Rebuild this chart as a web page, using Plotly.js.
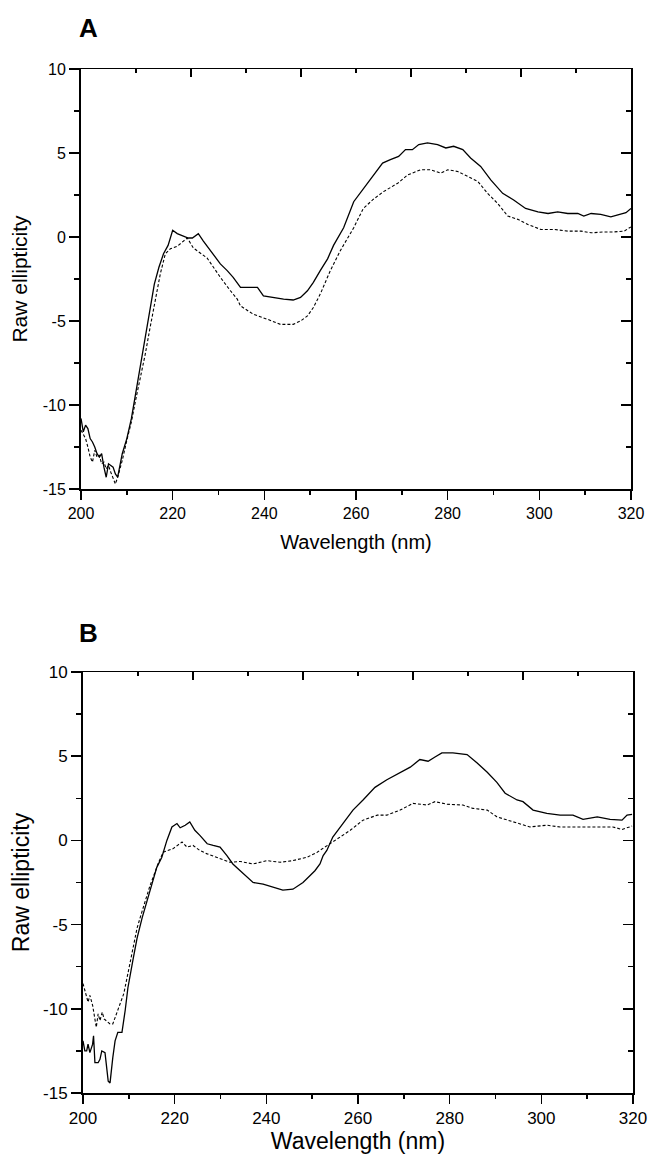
<!DOCTYPE html>
<html>
<head>
<meta charset="utf-8">
<script src="https://cdn.plot.ly/plotly-3.0.1.min.js"></script>
<style>html,body{margin:0;padding:0;background:#fff;}#chart{width:653px;height:1162px;}</style>
</head>
<body>
<div id="chart"></div>
<script>
// Panel A, solid trace
const wlA_solid = [200.0,200.5,201.0,201.5,202.0,202.5,203.0,203.5,204.0,204.5,205.0,205.5,206.0,206.5,207.0,207.5,208.0,209.0,210.0,211.0,212.0,213.0,214.0,215.0,216.0,217.0,218.0,219.0,220.0,221.0,222.3,223.4,224.3,225.6,226.7,227.8,228.9,230.4,231.9,233.2,234.8,236.3,238.5,239.8,242.0,244.2,246.3,247.9,249.4,250.7,252.2,253.8,255.1,257.3,259.5,261.6,263.8,265.8,267.5,269.3,270.8,272.3,273.7,275.6,277.8,279.6,281.3,283.3,285.0,287.2,289.4,292.0,294.4,297.0,299.7,301.9,304.0,306.2,308.4,309.7,311.3,313.4,315.6,317.4,318.9,320.0];
const elA_solid = [-10.8,-11.6,-11.2,-11.4,-12.0,-12.2,-12.5,-12.9,-13.1,-12.9,-13.7,-14.3,-13.5,-13.6,-13.7,-14.1,-14.3,-12.9,-12.0,-10.8,-9.2,-7.4,-6.0,-4.4,-2.8,-1.8,-1.0,-0.5,0.4,0.2,0.05,-0.06,-0.06,0.2,-0.24,-0.65,-1.0,-1.6,-2.0,-2.4,-3.0,-3.0,-3.0,-3.5,-3.6,-3.7,-3.75,-3.6,-3.2,-2.7,-2.0,-1.3,-0.5,0.55,2.1,2.85,3.7,4.4,4.6,4.8,5.2,5.2,5.5,5.6,5.5,5.3,5.4,5.2,4.7,4.2,3.4,2.6,2.2,1.7,1.5,1.4,1.5,1.4,1.4,1.25,1.4,1.35,1.2,1.35,1.45,1.7];
// Panel A, dashed trace
const wlA_dash = [200.0,200.5,201.0,201.5,202.0,202.5,203.0,203.5,204.0,204.5,205.0,205.5,206.0,206.5,207.0,207.5,208.0,209.0,210.0,211.0,212.0,213.0,214.0,215.0,216.0,217.3,218.4,219.5,221.0,223.2,224.5,226.0,227.5,228.9,230.4,232.6,234.1,234.8,237.6,240.7,243.5,246.3,247.9,249.4,250.7,252.2,254.4,256.6,259.5,261.6,263.8,266.0,269.1,271.3,274.1,276.3,278.5,280.0,282.2,284.4,286.6,288.7,290.9,293.1,295.3,297.5,300.3,303.2,306.2,309.1,311.3,314.1,316.3,318.5,320.0];
const elA_dash = [-11.5,-11.8,-12.0,-12.5,-13.1,-13.4,-12.7,-13.1,-13.0,-13.5,-13.4,-13.8,-13.6,-14.0,-14.3,-14.7,-14.3,-13.3,-12.1,-11.0,-9.6,-8.4,-7.0,-5.5,-4.0,-2.2,-1.0,-0.7,-0.55,-0.06,-0.65,-0.95,-1.25,-1.8,-2.4,-3.2,-3.7,-4.1,-4.6,-4.9,-5.2,-5.2,-5.0,-4.7,-4.2,-3.4,-2.0,-0.8,0.55,1.7,2.25,2.7,3.2,3.7,4.0,4.0,3.8,4.0,3.9,3.6,3.3,2.6,2.0,1.25,1.05,0.75,0.45,0.45,0.35,0.35,0.25,0.3,0.3,0.35,0.6];
// Panel B, solid trace
const wlB_solid = [200.0,200.4,200.8,201.1,201.5,202.1,202.3,202.6,203.3,203.7,204.1,204.8,205.5,205.9,206.5,207.0,207.6,208.5,209.2,209.8,210.9,211.8,212.9,213.8,214.6,215.7,216.1,217.2,218.3,219.4,220.5,221.2,222.3,223.3,224.4,225.5,227.1,228.4,229.9,231.4,232.7,234.3,235.8,237.1,239.3,241.5,243.6,245.8,248.0,249.5,250.6,251.7,252.4,253.2,254.5,256.7,258.9,261.1,263.7,266.3,269.2,271.4,273.5,275.3,276.8,278.3,280.7,283.8,286.0,288.2,290.3,292.1,294.7,296.0,298.2,301.2,304.1,306.9,309.1,312.2,315.0,317.6,318.7,319.8];
const elB_solid = [-11.9,-12.5,-12.5,-12.1,-12.6,-12.1,-11.6,-13.2,-13.2,-13.0,-12.5,-12.6,-14.3,-14.4,-12.9,-11.9,-11.4,-11.4,-10.1,-8.75,-7.1,-5.8,-4.6,-3.75,-3.0,-2.1,-1.6,-1.0,0.0,0.8,1.0,0.75,0.9,1.1,0.6,0.3,-0.2,-0.3,-0.4,-0.9,-1.4,-1.8,-2.2,-2.5,-2.6,-2.8,-2.95,-2.9,-2.5,-2.1,-1.8,-1.4,-0.9,-0.6,0.2,1.0,1.8,2.4,3.15,3.6,4.0,4.35,4.8,4.7,4.95,5.2,5.2,5.1,4.6,4.05,3.45,2.8,2.4,2.3,1.8,1.6,1.5,1.5,1.25,1.4,1.25,1.2,1.5,1.55];
// Panel B, dashed trace
const wlB_dash = [200.0,200.4,201.1,201.5,202.1,202.9,203.3,203.7,204.2,204.6,205.9,206.5,207.0,208.1,208.9,209.8,210.9,211.8,212.9,213.8,214.6,215.7,216.5,217.5,219.6,221.6,222.7,224.0,225.5,227.1,229.2,232.1,234.3,237.1,240.1,243.0,245.8,248.9,251.1,253.2,253.9,256.1,258.3,261.1,264.2,266.3,269.2,272.0,275.1,276.8,279.4,282.9,285.1,288.2,290.3,293.2,295.4,297.5,301.2,304.1,306.9,310.0,312.8,315.6,317.6,319.8];
const elB_dash = [-8.5,-8.9,-9.6,-9.2,-9.8,-11.1,-10.3,-10.7,-10.2,-10.6,-10.9,-10.9,-10.5,-9.7,-9.1,-7.9,-6.5,-5.2,-4.2,-3.4,-2.7,-1.9,-1.3,-0.7,-0.5,-0.1,-0.4,-0.3,-0.6,-0.8,-1.0,-1.3,-1.25,-1.4,-1.2,-1.3,-1.2,-1.0,-0.7,-0.3,-0.2,0.2,0.6,1.2,1.5,1.5,1.8,2.2,2.1,2.3,2.15,2.1,1.9,1.8,1.4,1.15,1.0,0.8,0.9,0.8,0.8,0.8,0.8,0.8,0.65,0.85];

const xTickVals = [200,220,240,260,280,300,320];
const yTickVals = [-15,-10,-5,0,5,10];
const yTickText = ['-15','-10','-5','0','5','10'];
const panelLabels = ['A','B'];
const xTitle = 'Wavelength (nm)';
const yTitle = 'Raw ellipticity';

const FF = '"Liberation Sans", Arial, Helvetica, sans-serif';
const W = 653, H = 1162, ML = 70, MR = 18, MT = 60, MB = 60;
const PW = W - ML - MR, PH = H - MT - MB;
const px2x = p => (p - ML) / PW;
const px2y = p => (H - MB - p) / PH;

const solidLine = {color:'#000', width:1.3};
const dashLine = {color:'#000', width:1.1, dash:'3px,2px'};

const traces = [
  {x: wlA_solid, y: elA_solid, xaxis:'x', yaxis:'y', mode:'lines', line: solidLine, showlegend:false, hoverinfo:'skip'},
  {x: wlA_dash, y: elA_dash, xaxis:'x', yaxis:'y', mode:'lines', line: dashLine, showlegend:false, hoverinfo:'skip'},
  {x: wlB_solid, y: elB_solid, xaxis:'x3', yaxis:'y3', mode:'lines', line: solidLine, showlegend:false, hoverinfo:'skip'},
  {x: wlB_dash, y: elB_dash, xaxis:'x3', yaxis:'y3', mode:'lines', line: dashLine, showlegend:false, hoverinfo:'skip'},
  // empty carriers so the frame (top/right) axes get drawn
  {x:[null], y:[null], xaxis:'x2', yaxis:'y', mode:'lines', showlegend:false, hoverinfo:'skip'},
  {x:[null], y:[null], xaxis:'x', yaxis:'y2', mode:'lines', showlegend:false, hoverinfo:'skip'},
  {x:[null], y:[null], xaxis:'x4', yaxis:'y3', mode:'lines', showlegend:false, hoverinfo:'skip'},
  {x:[null], y:[null], xaxis:'x3', yaxis:'y4', mode:'lines', showlegend:false, hoverinfo:'skip'}
];

function bottomAxis(dom, anchor, tickSize, titleSize, standoff) {
  return {domain: dom, anchor: anchor, range:[200,320], tickmode:'array', tickvals: xTickVals,
    ticks:'outside', ticklen:9, tickwidth:1.5, tickcolor:'#000',
    minor:{tickmode:'linear', tick0:200, dtick:10, ticks:'outside', ticklen:4, tickwidth:1.5, tickcolor:'#000', showgrid:false},
    showline:true, linewidth:2, linecolor:'#000', showgrid:false, zeroline:false, fixedrange:true,
    tickfont:{family:FF, size:tickSize, color:'#000'},
    title:{text:xTitle, font:{family:FF, size:titleSize, color:'#000'}, standoff: standoff}};
}
function leftAxis(dom, anchor, tickSize, titleSize, standoff) {
  return {domain: dom, anchor: anchor, range:[-15,10], tickmode:'array', tickvals: yTickVals, ticktext: yTickText,
    ticks:'outside', ticklen:10, tickwidth:1.5, tickcolor:'#000',
    minor:{tickmode:'linear', tick0:-15, dtick:2.5, ticks:'outside', ticklen:5, tickwidth:1.5, tickcolor:'#000', showgrid:false},
    showline:true, linewidth:2, linecolor:'#000', showgrid:false, zeroline:false, fixedrange:true,
    tickfont:{family:FF, size:tickSize, color:'#000'},
    title:{text:yTitle, font:{family:FF, size:titleSize, color:'#000'}, standoff: standoff}};
}
function rightAxis(over, anchor) {
  return {overlaying: over, anchor: anchor, side:'right', range:[-15,10], tickmode:'linear', tick0:-15, dtick:5,
    ticks:'inside', ticklen:10, tickwidth:1.5, tickcolor:'#000',
    minor:{tickmode:'linear', tick0:-15, dtick:2.5, ticks:'inside', ticklen:5, tickwidth:1.5, tickcolor:'#000', showgrid:false},
    showticklabels:false, showline:true, linewidth:1.5, linecolor:'#000', showgrid:false, zeroline:false, fixedrange:true};
}
function topAxis(over, anchor) {
  return {overlaying: over, anchor: anchor, side:'top', range:[0,5], tickmode:'linear', tick0:0, dtick:1,
    ticks:'inside', ticklen:8, tickwidth:1.5, tickcolor:'#000',
    minor:{tickmode:'linear', tick0:0, dtick:0.5, ticks:'inside', ticklen:4, tickwidth:1.5, tickcolor:'#000', showgrid:false},
    showticklabels:false, showline:true, linewidth:1.5, linecolor:'#000', showgrid:false, zeroline:false, fixedrange:true};
}

const xdA = [px2x(81), px2x(631)], ydA = [px2y(489), px2y(69)];
const xdB = [px2x(83), px2x(633)], ydB = [px2y(1093), px2y(672)];

const layout = {
  width: W, height: H, margin:{l:ML, r:MR, t:MT, b:MB},
  paper_bgcolor:'#fff', plot_bgcolor:'rgba(0,0,0,0)', showlegend:false,
  font:{family:FF, color:'#000'},
  xaxis: bottomAxis(xdA, 'y', 16, 20, 14),
  yaxis: leftAxis(ydA, 'x', 16, 21, 9),
  xaxis2: topAxis('x', 'y'),
  yaxis2: rightAxis('y', 'x'),
  xaxis3: bottomAxis(xdB, 'y3', 17, 23, 4),
  yaxis3: leftAxis(ydB, 'x3', 17, 23, 7),
  xaxis4: topAxis('x3', 'y3'),
  yaxis4: rightAxis('y3', 'x3'),
  annotations: [
    {text:'<b>' + panelLabels[0] + '</b>', xref:'paper', yref:'paper', x:px2x(88), y:px2y(28), xanchor:'center', yanchor:'middle', showarrow:false, font:{family:FF, size:26, color:'#000'}},
    {text:'<b>' + panelLabels[1] + '</b>', xref:'paper', yref:'paper', x:px2x(88), y:px2y(633), xanchor:'center', yanchor:'middle', showarrow:false, font:{family:FF, size:26, color:'#000'}}
  ]
};

Plotly.newPlot('chart', traces, layout, {staticPlot:true, displayModeBar:false});
</script>
</body>
</html>
